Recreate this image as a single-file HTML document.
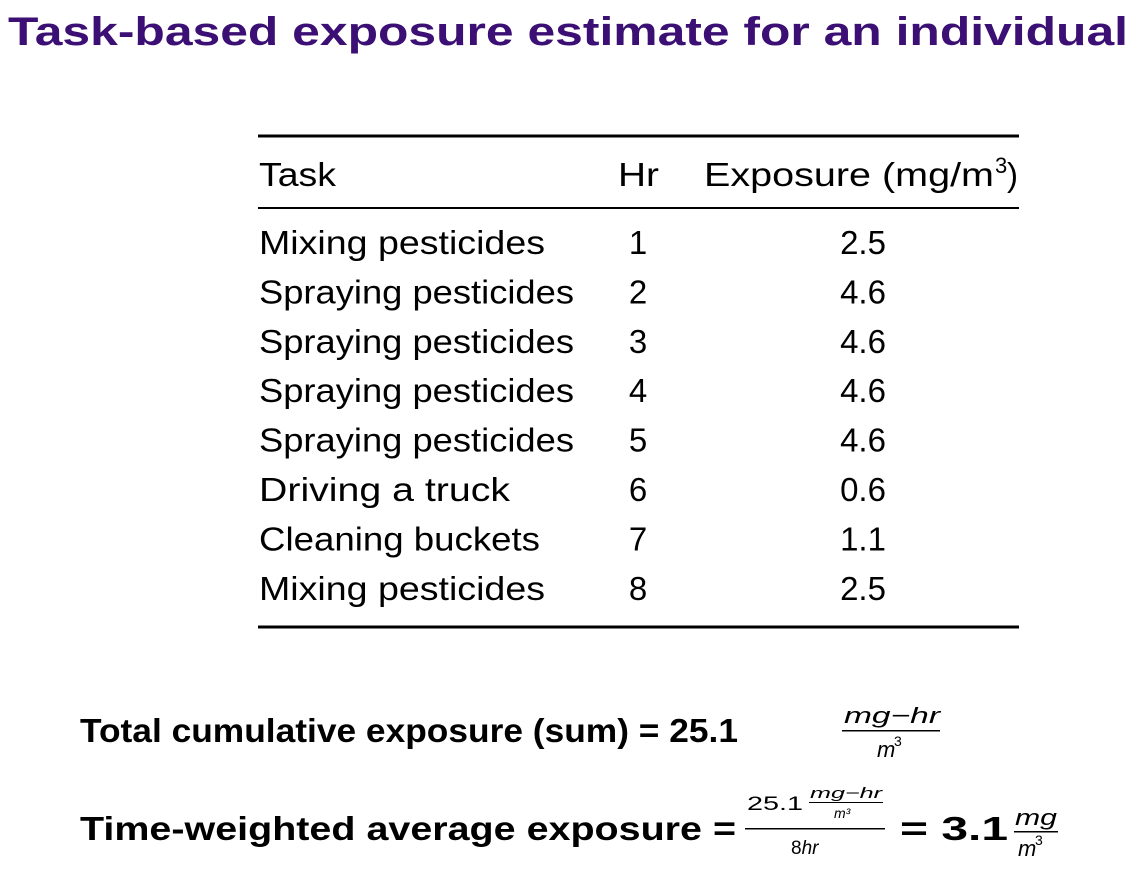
<!DOCTYPE html>
<html><head><meta charset="utf-8"><style>
html,body{margin:0;padding:0;background:#fff;width:1144px;height:882px;overflow:hidden}
svg{display:block}
text{font-family:"Liberation Sans","DejaVu Sans",sans-serif;fill:#000}
.t{font-size:33px}
.b{font-weight:bold;font-size:33px}
.i{font-style:italic;font-size:22px}
.s{font-size:19px}
</style></head><body>
<svg width="1144" height="882" viewBox="0 0 1144 882">
<text x="8" y="45" style="font-size:40px;font-weight:bold;fill:#3b0f73" textLength="1120" lengthAdjust="spacingAndGlyphs">Task-based exposure estimate for an individual</text>

<g>
<rect x="258" y="134.5" width="761" height="3"/>
<rect x="258" y="207" width="761" height="2"/>
<rect x="258" y="625.5" width="761" height="3"/>
<text class="t" x="259" y="186" textLength="77" lengthAdjust="spacingAndGlyphs">Task</text>
<text class="t" x="618" y="186" textLength="41" lengthAdjust="spacingAndGlyphs">Hr</text>
<text class="t" x="704" y="186" textLength="290" lengthAdjust="spacingAndGlyphs">Exposure (mg/m</text>
<text x="995" y="173" style="font-size:22px">3</text>
<text class="t" x="1007" y="186">)</text>
<g id="rows"></g>
</g>

<g>
<text class="b" x="80" y="742" textLength="658" lengthAdjust="spacingAndGlyphs">Total cumulative exposure (sum) = 25.1</text>
<text class="i" x="844" y="723" textLength="96" lengthAdjust="spacingAndGlyphs">mg−hr</text>
<rect x="842" y="730" width="98" height="1.5"/>
<text class="i" x="877" y="757">m</text>
<text x="894" y="746" style="font-size:14px">3</text>
</g>

<g>
<text class="b" x="80" y="840" textLength="656" lengthAdjust="spacingAndGlyphs">Time-weighted average exposure =</text>
<text class="s" x="747" y="810" textLength="56" lengthAdjust="spacingAndGlyphs">25.1</text>
<text x="810" y="798" style="font-size:15px;font-style:italic" textLength="72" lengthAdjust="spacingAndGlyphs">mg−hr</text>
<rect x="809" y="802" width="74" height="1"/>
<text x="834" y="818" style="font-size:14px;font-style:italic">m³</text>
<rect x="745" y="828" width="140" height="1.5"/>
<text class="s" x="791" y="854"><tspan>8</tspan><tspan font-style="italic">hr</tspan></text>
<text class="b" x="900" y="840" textLength="108" lengthAdjust="spacingAndGlyphs">= 3.1</text>
<text class="i" x="1015" y="825" textLength="42" lengthAdjust="spacingAndGlyphs">mg</text>
<rect x="1014" y="831" width="44" height="1.5"/>
<text class="i" x="1018" y="856">m</text>
<text x="1035" y="845" style="font-size:14px">3</text>
</g>
</svg>
<script>
const tasks=["Mixing pesticides","Spraying pesticides","Spraying pesticides","Spraying pesticides","Spraying pesticides","Driving a truck","Cleaning buckets","Mixing pesticides"];
const hours=["1","2","3","4","5","6","7","8"];
const exposures=["2.5","4.6","4.6","4.6","4.6","0.6","1.1","2.5"];
const taskWidths={"Mixing pesticides":286,"Spraying pesticides":315,"Driving a truck":251,"Cleaning buckets":281};
const NS="http://www.w3.org/2000/svg";
const g=document.getElementById('rows');
tasks.forEach((t,i)=>{
  const y=254+i*49.4;
  const a=document.createElementNS(NS,'text');
  a.setAttribute('class','t');a.setAttribute('x',259);a.setAttribute('y',y);
  a.setAttribute('textLength',taskWidths[t]);a.setAttribute('lengthAdjust','spacingAndGlyphs');
  a.textContent=t;
  
  
  g.appendChild(a);
  const b=document.createElementNS(NS,'text');
  b.setAttribute('class','t');b.setAttribute('x',638);b.setAttribute('y',y);b.setAttribute('text-anchor','middle');
  b.textContent=hours[i];
  
  
  g.appendChild(b);
  const c=document.createElementNS(NS,'text');
  c.setAttribute('class','t');c.setAttribute('x',863);c.setAttribute('y',y);c.setAttribute('text-anchor','middle');
  c.textContent=exposures[i];
  
  
  g.appendChild(c);
});
</script>
</body></html>
